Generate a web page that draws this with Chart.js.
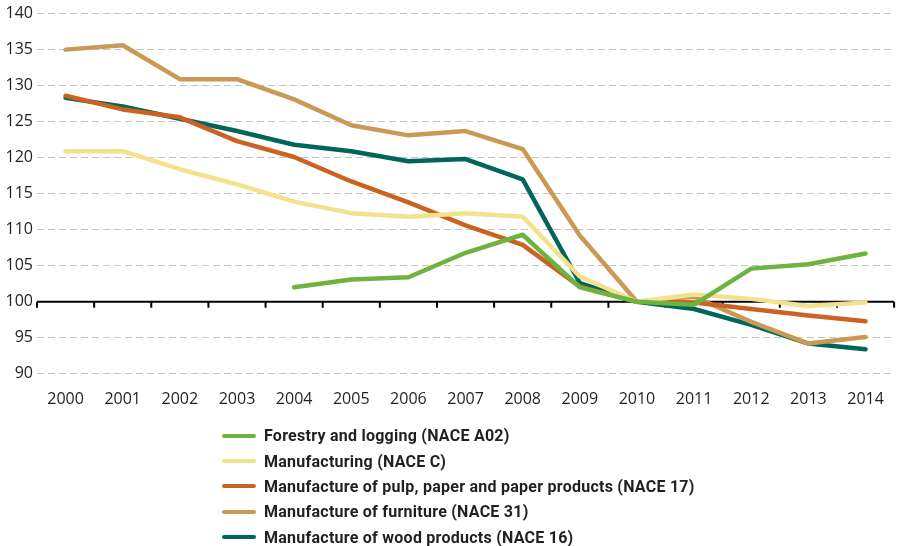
<!DOCTYPE html>
<html>
<head>
<meta charset="utf-8">
<script src="https://cdn.jsdelivr.net/npm/chart.js@4/dist/chart.umd.min.js"></script>
<style>
  html, body { margin: 0; padding: 0; background: #fff; }
  #wrap { position: relative; width: 900px; height: 546px; }
  #legend { position: absolute; left: 222px; top: 423px; font: 700 16px Roboto, sans-serif; letter-spacing: 0.25px; color: #231f20; }
  .item { display: flex; align-items: center; height: 25.4px; }
  .sw { display: inline-block; width: 34px; height: 4px; border-radius: 2px; margin-right: 8px; }
</style>
</head>
<body>
<div id="wrap">
  <canvas id="chart" width="900" height="546"></canvas>
  <div id="legend"></div>
</div>
<script>
// Index, 2010 = 100
const years = ['2000','2001','2002','2003','2004','2005','2006','2007','2008','2009','2010','2011','2012','2013','2014'];
const forestry = [null, null, null, null, 102.0, 103.1, 103.4, 106.8, 109.3, 102.0, 100, 99.6, 104.6, 105.2, 106.7];
const manufacturing = [120.9, 120.9, 118.4, 116.3, 113.9, 112.3, 111.8, 112.3, 111.8, 103.5, 100, 101.0, 100.4, 99.4, 99.9];
const pulpPaper = [128.6, 126.7, 125.6, 122.3, 120.1, 116.7, 113.8, 110.6, 107.9, 102.1, 100, 99.9, 99.0, 98.1, 97.3];
const furniture = [135.0, 135.6, 130.9, 130.9, 128.1, 124.5, 123.1, 123.7, 121.2, 109.2, 100, 100.7, 97.2, 94.2, 95.1];
const woodProducts = [128.3, 127.1, 125.4, 123.7, 121.8, 120.9, 119.5, 119.8, 117.0, 102.6, 100, 99.0, 96.8, 94.2, 93.4];
const yTicks = [90, 95, 100, 105, 110, 115, 120, 125, 130, 135, 140];

const series = [
  { label: 'Forestry and logging (NACE A02)', data: forestry, color: '#6cb33f' },
  { label: 'Manufacturing (NACE C)', data: manufacturing, color: '#f2e28b' },
  { label: 'Manufacture of pulp, paper and paper products (NACE 17)', data: pulpPaper, color: '#cb6221' },
  { label: 'Manufacture of furniture (NACE 31)', data: furniture, color: '#c99a55' },
  { label: 'Manufacture of wood products (NACE 16)', data: woodProducts, color: '#00665a' }
];

// black base line at 100 with tick marks between the years
const baseLine = {
  id: 'baseLine',
  beforeDatasetsDraw(chart) {
    const { ctx, chartArea, scales: { x, y } } = chart;
    const y0 = y.getPixelForValue(100);
    ctx.save();
    ctx.strokeStyle = '#000';
    ctx.lineWidth = 2;
    ctx.beginPath();
    ctx.moveTo(chartArea.left, y0);
    ctx.lineTo(chartArea.right, y0);
    const step = x.getPixelForValue(1) - x.getPixelForValue(0);
    for (let i = 0; i <= years.length; i++) {
      const px = x.getPixelForValue(i) - step / 2;
      ctx.moveTo(px, y0);
      ctx.lineTo(px, y0 + 6);
    }
    ctx.stroke();
    ctx.restore();
  }
};

const chart = new Chart(document.getElementById('chart'), {
  type: 'line',
  data: {
    labels: years,
    datasets: series.map(s => ({
      label: s.label, data: s.data, borderColor: s.color, backgroundColor: s.color,
      borderWidth: 4.5, pointRadius: 0, tension: 0, borderCapStyle: 'round', borderJoinStyle: 'round', spanGaps: false
    }))
  },
  options: {
    responsive: false, animation: false,
    layout: { padding: { top: 13, right: 5, bottom: 121, left: 0 } },
    plugins: { legend: { display: false }, tooltip: { enabled: false } },
    scales: {
      x: {
        offset: true,
        grid: { display: false, drawTicks: false },
        border: { display: false },
        ticks: { color: '#231f20', font: { family: 'Open Sans', size: 16 }, padding: 16, maxRotation: 0 }
      },
      y: {
        min: 90, max: 140,
        afterBuildTicks: s => { s.ticks = yTicks.map(v => ({ value: v })); },
        afterFit: s => { s.width = 37; },
        grid: { color: c => c.tick && c.tick.value === 100 ? 'rgba(0,0,0,0)' : '#c4c4c4', lineWidth: 1, drawTicks: false },
        border: { display: false, dash: [7, 4] },
        ticks: { color: '#231f20', font: { family: 'Open Sans', size: 16 }, padding: 4 }
      }
    }
  },
  plugins: [baseLine]
});

document.getElementById('legend').innerHTML = chart.data.datasets.map(d =>
  `<div class="item"><span class="sw" style="background:${d.borderColor}"></span>${d.label}</div>`).join('');
</script>
</body>
</html>
